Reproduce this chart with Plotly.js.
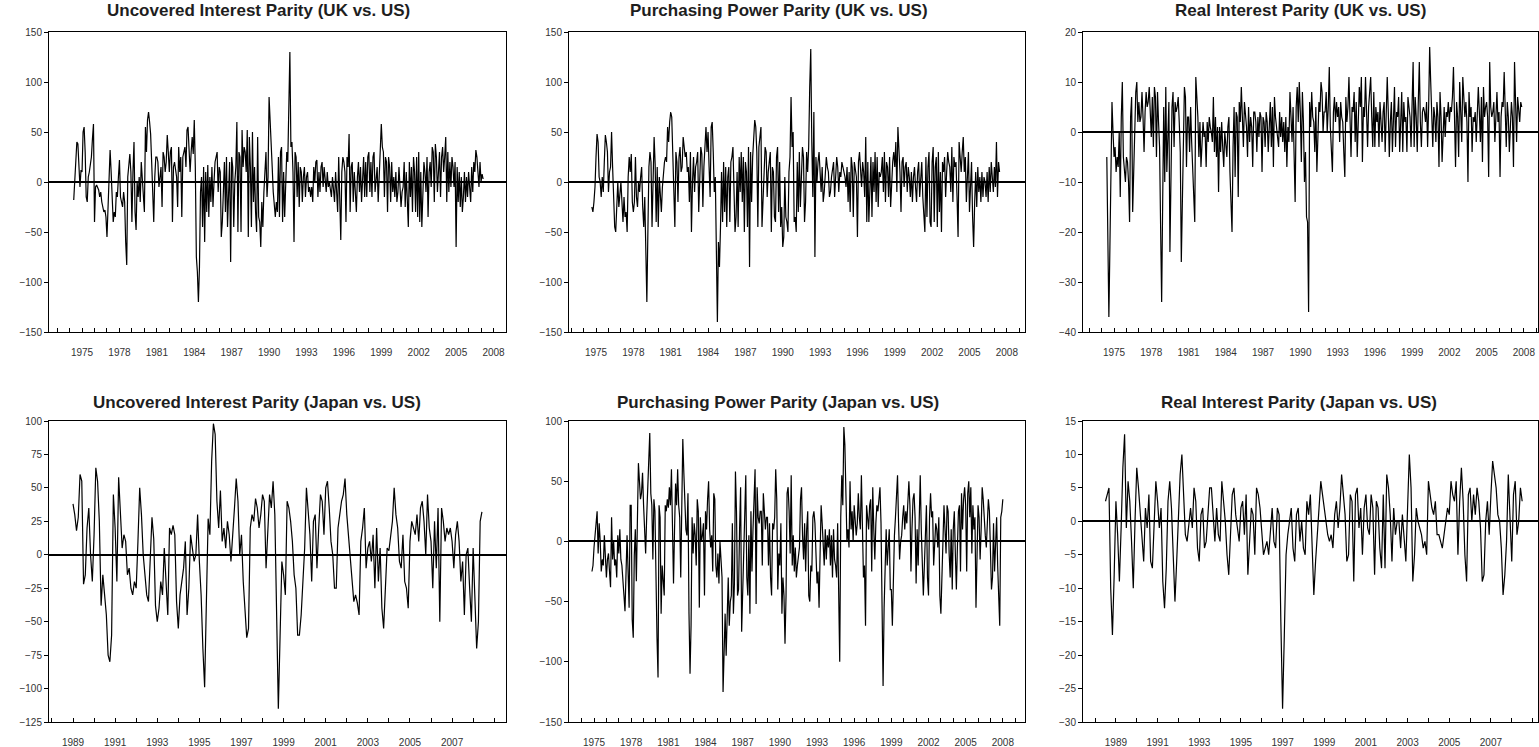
<!DOCTYPE html>
<html>
<head>
<meta charset="utf-8">
<script src="https://cdn.plot.ly/plotly-3.0.1.min.js"></script>
<style>
html,body{margin:0;padding:0;background:#fff;}
#chart{width:1539px;height:747px;}
</style>
</head>
<body>
<div id="chart"></div>
<script>
// ---------------- DATA ----------------
const titles = [
  "Uncovered Interest Parity (UK vs. US)",
  "Purchasing Power Parity (UK vs. US)",
  "Real Interest Parity (UK vs. US)",
  "Uncovered Interest Parity (Japan vs. US)",
  "Purchasing Power Parity (Japan vs. US)",
  "Real Interest Parity (Japan vs. US)"
];

const ukYearLabels = [1975, 1978, 1981, 1984, 1987, 1990, 1993, 1996, 1999, 2002, 2005, 2008];
const jpYearLabels = [1989, 1991, 1993, 1995, 1997, 1999, 2001, 2003, 2005, 2007];

const ticks150 = [-150, -100, -50, 0, 50, 100, 150];
const ticksRipUK = [-40, -30, -20, -10, 0, 10, 20];
const ticksUipJP = [-125, -100, -75, -50, -25, 0, 25, 50, 75, 100];
const ticksPppJP = [-150, -100, -50, 0, 50, 100];
const ticksRipJP = [-30, -25, -20, -15, -10, -5, 0, 5, 10, 15];

// monthly series, first observation month given as [year, month]
const uipUKStart = [1974, 5];
const uipUK = [
  -18, 2, 20, 40, 38, 5, -5, 12,
  10, 50, 55, 30, -15, -20, 5, 10, 20, 25, 43, 58,
  -40, -5, -3, -5, -8, -15, -10, -20, -25, -30, -28, -35,
  -55, -30, 5, 32, 10, -20, -40, -30, -35, -10, -15, 5,
  22, -15, -20, -25, -10, -20, -60, -83, 5, 15, 28, 10,
  -40, 10, 40, -30, -48, 0, -15, 5, -20, 20, 0, -10,
  -30, 55, 30, 62, 70, 60, 48, 20, -25, -40, 5, 25,
  25, 20, -5, 10, 15, -25, 30, 25, 10, 20, 47, 30,
  10, 30, 35, -40, 15, 20, 10, 5, -25, 35, 10, 25,
  -35, 25, 30, 35, 15, 52, 55, 20, 10, 30, 45, 28,
  62, 15, -75, -90, -120, -85, -10, 5, -45, 15, -60, 10,
  -30, 17, -35, 5, -20, 15, -25, 0, 20, 25, 30, -10,
  15, 10, -55, -40, 0, 20, -30, 25, -45, -10, 20, -80,
  25, 15, -45, 0, 15, 60, -50, 30, 25, -50, 52, 15,
  35, 30, 10, 52, -55, 45, 15, -45, 50, -20, 15, -30,
  -50, 45, -35, -40, -65, -20, -45, -10, 20, 30, -15, 5,
  85, 65, 35, 15, -10, -25, -35, -20, -30, 25, -35, 30,
  35, -40, 10, -35, 15, 30, 20, 95, 130, 35, 40, 10,
  -60, 30, 25, -15, 20, -25, 15, 10, -20, 5, 15, -15,
  5, 10, -10, -5, -15, -5, -20, 15, 0, 20, 22, -15,
  10, -10, 15, 20, -5, 15, 5, -10, 10, -5, 0, -10,
  -15, 5, -5, -20, 10, -10, -30, 25, -30, -58, 10, 25,
  20, 10, -40, 25, 15, 48, -30, 15, 20, -20, 10, -10,
  -30, 5, 20, -10, 15, -20, 5, 25, -15, 20, -15, 25,
  30, -10, 20, -15, 25, 30, -10, 5, 15, -20, 10, 20,
  58, 35, 30, -15, 25, 20, -30, 25, 15, -20, 20, -10,
  5, -15, 10, -20, -10, 15, 0, -25, -10, -5, 20, -25,
  10, -15, -45, 20, -15, 15, -30, 25, 10, -30, 25, -35,
  30, -40, 10, -45, -20, 20, 10, -10, 25, -35, 10, 20,
  -5, 35, 30, -20, 38, 25, -10, 20, 30, -15, 25, 35,
  10, 25, 45, -20, 30, -10, 20, -5, 25, 15, -5, 20,
  -65, 15, -20, 10, -25, 5, -30, -15, 10, -20, 5, -15,
  10, -5, -20, 15, -10, 20, 10, 32, 25, 10, -5, 20,
  0, 8, 3
];

const pppUKStart = [1974, 9];
const pppUK = [
  -25, -30, -20, -5,
  25, 48, 40, 5, 0, -15, 5, -10, 20, 47, 40, 30,
  -10, 10, 15, 50, 15, -30, -45, -50, -20, 0, -25, -10,
  0, -20, -40, -15, -35, -30, -50, 5, 25, 10, 28, -20,
  -30, -20, 25, -15, -25, 0, -10, 5, 15, -25, -45, -15,
  -80, -120, -50, 15, 30, 20, -45, 10, 45, 18, -40, 15,
  -45, 5, -10, -30, -5, 10, 20, 25, 20, 55, 40, 60,
  70, 65, 20, -30, -45, 30, 20, -20, 25, 35, 10, 15,
  45, 35, 25, 30, 10, 15, -20, 30, -50, 0, 25, -10,
  15, 20, 30, -30, 20, 35, 28, -25, 15, 30, 55, 30,
  50, 15, -15, 55, 60, 30, -10, 5, -90, -140, -60, -85,
  -45, 10, -40, 20, -30, 15, -45, 5, 15, -40, 20, 25,
  35, -25, -50, -35, 10, -45, 25, -10, 30, -20, 25, -50,
  20, 10, -45, 35, -85, 30, -20, 25, 45, 62, 55, 30,
  -45, 35, 45, 55, -45, -20, 15, 35, 30, -15, 10, 25,
  30, -50, 15, 10, -35, -40, 25, 35, -30, 20, -45, -25,
  -65, -55, 5, -35, -40, -50, 10, 25, 85, 35, 50, -40,
  -35, -50, 20, -30, 30, -25, 15, 35, 25, -40, -20, 30,
  10, 35, 95, 133, 40, -15, 70, -75, 25, 0, 20, 30,
  10, -10, 15, -20, -10, 5, 25, 15, 10, -15, -10, 5,
  15, 20, -15, 10, 25, 15, -10, 10, 5, 20, 15, 10,
  5, -5, 15, -20, 10, -30, 25, 15, -35, 20, 10, 5,
  -55, 20, 30, 10, -5, 20, 10, -15, 45, -40, 20, -40,
  10, 25, -35, 20, -10, 30, -20, 25, -25, 10, 5, 10,
  25, -10, 30, -20, 20, 15, -15, 25, -25, 10, 20, 30,
  15, 40, -10, 55, 35, 10, -30, 20, 25, -5, 15, 20,
  -10, 15, 5, -15, 10, -20, 5, 15, -5, -20, 10, 20,
  -15, 10, 20, -15, -30, -50, 25, -35, 15, 30, -40, -45,
  20, 35, -40, 15, 25, -45, 30, -30, 10, -50, 20, 10,
  25, -15, 10, 30, 20, 15, -10, 35, -20, 25, 15, 20,
  -15, -55, 40, 25, 10, 30, 45, 10, 25, -20, 15, 30,
  -30, 5, 20, -35, -65, -20, 10, -25, 15, -10, 5, -20,
  10, -15, 5, 0, -15, 10, -20, 15, -10, 20, 5, -10,
  15, -5, 40, -15, 20, 10
];

const ripUKStart = [1974, 6];
const ripUK = [
  -5, -25, -37, -23, -2, 6, 0,
  -5, -3, -8, -5, -7, 0, -13, 3, 10, -5, -7, -10,
  -5, -6, -10, -18, 3, 7, -16, -7, 5, 8, 10, 2,
  6, 2, 3, 8, 3, -4, 4, 8, 5, 6, 9, 2,
  -1, 7, -3, 9, 7, -5, 8, 2, -3, -19, -34, -14,
  5, -10, 9, -8, 2, 6, -24, -10, 5, 8, -3, 6,
  4, 5, 7, 2, -4, -26, -12, 5, 9, 7, -7, 3,
  3, -4, 5, -2, -8, -15, -18, 11, 8, 3, -5, 2,
  -7, -2, 2, -1, 0, -7, 2, -2, 3, 1, 0, -2,
  7, -4, 3, -5, 1, -12, 1, -4, 2, -3, -7, 0,
  -2, -5, 1, 3, -8, -14, -20, -3, 5, -9, 4, 3,
  -13, 6, 2, 9, 3, -3, 6, 3, 1, -5, 5, -2,
  3, 1, -7, 4, 4, 2, -4, 3, -1, 4, 3, -8,
  3, 2, -3, 4, 2, -4, 2, 6, -3, 5, -7, 7,
  3, 1, -2, -3, 4, -1, 3, -2, 2, -4, 3, -7,
  1, -2, 8, 4, -2, 5, -8, -14, 5, 9, 2, 10,
  4, -6, 8, 2, -10, -4, -17, -18, -36, 6, 1, 8,
  3, 2, -4, 5, -8, 3, 6, 4, 10, 8, 0, 4,
  4, 8, 0, 5, 13, 1, -3, -8, 4, 7, 2, 6,
  3, 5, -2, 6, 3, 2, -4, -9, 7, 2, 5, 11,
  3, -5, 5, 4, 8, -2, 6, -5, 2, 9, 5, 11,
  -6, 5, 3, 11, 4, -3, 5, 8, 11, 3, -3, 8,
  -3, 5, 2, 4, -3, 6, 3, -2, 4, 6, -4, 3,
  11, 4, -5, 2, 6, -4, 3, 9, -3, 4, 3, 7,
  -4, 5, 8, -4, 6, 2, 3, -4, 7, 5, 3, -3,
  4, 14, -3, 7, 3, -4, 6, 14, 2, -3, 4, 5,
  4, 2, 6, -3, 5, 17, 10, 3, -3, 5, 3, -2,
  6, 3, -7, 8, 3, -6, 2, 5, -1, 4, 3, 6,
  2, 5, 4, 7, 13, 5, -7, 6, 3, -5, 10, 4,
  -2, 11, 5, 3, 6, 2, -10, 8, 3, 5, -4, 3,
  2, 4, -2, 6, 9, 4, -2, 7, -6, 9, 3, 5,
  6, 3, -9, 14, 5, 3, 4, 6, -2, 3, 8, 2,
  4, -9, 3, 6, 5, 12, 4, -3, 6, 3, -4, 2,
  6, 3, -7, 14, 3, -2, 7, 5, 2, 6, 5
];

const uipJPStart = [1989, 1];
const uipJP = [
  38, 30, 18, 28, 60, 55, -22, -15, 20, 35, 0, -20,
  15, 65, 55, 25, -38, -15, -30, -45, -75, -80, -60, 45,
  20, -20, 58, 25, 5, 15, 10, -15, -10, -25, -30, -20,
  -25, 10, 50, 30, 0, -15, -30, -35, -5, 28, 12, -38,
  -50, -40, -20, -30, 5, -25, -45, 20, 15, 22, 15, -35,
  -55, -30, -20, -10, 10, -45, -25, 15, 5, -5, 0, 30,
  -5, -30, -70, -99, -35, 27, 15, 70, 98, 90, 40, 20,
  48, 10, 20, 5, 25, 15, -5, 20, 35, 57, 40, 0,
  15, -20, -45, -62, -55, 20, 30, 25, 42, 35, 20, 30,
  45, 40, -10, 20, 45, 35, 55, 30, -50, -115, -60, -5,
  -15, -30, 40, 35, 25, 10, -15, -25, -60, -60, -45, -20,
  5, 50, 35, 15, -20, 25, 30, -10, 20, 45, 40, 15,
  50, 55, 35, 10, 0, -25, -25, 20, 30, 40, 45, 57,
  30, 15, 0, -20, -35, -30, -36, -45, 10, 20, 35, -10,
  5, 10, -5, 15, -25, 20, -20, 5, -40, -55, -20, 5,
  3, 15, 25, 50, 30, 20, -5, -10, 15, -20, -25, -40,
  10, 25, 20, 15, 30, 10, 35, 40, 25, 0, 45, 20,
  10, -25, 25, -10, 35, -50, 35, 25, 10, 20, 15, 20,
  10, -10, 15, 25, 10, -20, -5, -45, 0, 5, -25, -50,
  5, -35, -70, -50, 25, 32
];

const pppJPStart = [1974, 11];
const pppJP = [
  -25, -20,
  -5, 5, 20, 25, -10, 15, 0, -25, -15, -20, 5, -10,
  -30, -15, -10, -25, -38, 20, -15, 0, -20, -15, -30, 5,
  -10, 10, -15, -20, -30, -45, -58, -10, 5, -25, -55, 30,
  30, -65, -80, -12, 10, -33, 15, 65, 50, 35, 40, 57,
  30, 10, -10, 20, 40, 63, 90, 40, 30, -15, 35, 25,
  -55, -80, -113, 30, 20, -60, -20, -30, -45, 30, 25, 35,
  28, 45, 30, 60, 8, -35, 10, 48, 30, 60, 30, 20,
  -30, 50, 85, 57, 35, 10, 5, 40, -60, -110, -70, 20,
  -10, 15, 5, -20, 35, 25, -55, 20, 0, 5, 15, -45,
  25, 10, 35, 50, 10, -5, 5, -25, 40, 35, -20, -30,
  -10, -35, 0, -20, -30, -125, -85, -60, -95, -45, -30, -70,
  -50, -45, 15, -60, -35, 58, 25, -45, -40, 10, 45, -75,
  -40, 10, 45, 55, -30, -45, 5, -60, 25, -25, 10, 35,
  60, -52, 45, 20, 15, 25, 25, -20, 40, 25, 10, 20,
  20, -20, 15, -30, -45, 15, 10, 20, 60, 35, -40, -10,
  -20, 15, -60, -30, -45, -85, -45, 40, 45, 25, -10, 55,
  -20, 5, -25, -5, -30, -20, -10, -5, 35, 45, 5, -15,
  15, -25, 10, 25, -45, -50, -20, -25, 20, 25, 15, -15,
  -35, -25, -55, -10, 30, 15, -10, -20, 10, -15, 5, -5,
  10, -20, 5, -30, 10, -15, -20, -30, 15, -70, -100, 20,
  55, 30, 95, 80, 20, 0, 10, -5, 50, 10, 25, 0,
  30, 20, 5, 15, 40, 20, 10, 55, 20, -30, -20, -70,
  30, 15, 10, 30, 35, -25, 45, 10, -15, 15, 30, 25,
  35, 45, 15, -60, -120, -55, -20, 10, -20, 0, 10, -40,
  -40, -70, -30, 5, 20, 40, 55, 15, -15, 0, 5, 20,
  30, 10, 25, 15, 30, 50, 30, -25, 10, 35, 40, 20,
  -35, 10, -20, 25, 55, 10, -30, -45, -20, 10, 30, -30,
  -45, 20, 40, 20, 25, -20, 0, 15, 10, -5, 20, -45,
  -60, -25, 15, 30, 10, -10, 30, 25, -10, -30, 10, -40,
  10, 25, -10, -40, -5, 25, 30, -25, 40, 10, 35, 45,
  30, -25, 40, 50, 20, 45, -10, 30, 10, 20, -55, -10,
  30, 20, -15, 10, 45, 35, 15, 5, -5, 20, 35, 25,
  -10, -40, -30, 15, -25, 10, 20, -20, -40, -70, 20, 25,
  35
];

const ripJPStart = [1988, 7];
const ripJP = [
  3, 4, 5, -10, -17, -8,
  3, -2, -9, -1, 8, 13, -1, 6, 3, -3, -10, 0,
  8, 5, 1, -2, -6, 2, -1, 4, -6, -7, 1, 6,
  3, -1, 2, -9, -13, -7, 3, 6, 2, -6, -12, -6,
  0, 7, 10, 4, -2, -3, 0, 2, -1, 5, 3, -4,
  -6, 1, 2, -4, -3, 1, 5, 5, 0, -3, 2, -2,
  -3, 6, 3, 0, -5, -8, -2, 4, 5, 1, -1, -3,
  2, 3, -2, 4, -8, -3, 2, 1, -5, 5, 4, 2,
  -2, -5, -4, -3, -5, -2, 2, -3, -4, 2, 1, -15,
  -28, -17, -5, -2, 0, 2, -4, -6, 1, 2, -3, 0,
  -4, -5, 3, 1, 4, -5, -11, -6, -2, 2, 6, 4,
  2, 0, -2, -3, -2, -4, 1, 3, -1, 2, 7, 4,
  1, -6, -5, 4, 3, -9, 4, 5, -1, 2, -5, 2,
  4, -1, -2, 4, 2, -8, 3, 2, -4, -7, 4, -7,
  7, 5, 1, -6, 2, -2, 0, 0, -4, 1, -2, -6,
  2, 10, 5, -9, -5, 2, 0, -1, -2, -4, -3, -5,
  6, 4, 2, 1, 3, -2, -2, -3, -4, -2, 0, 2,
  1, 6, 4, 3, 6, -5, 3, 8, 3, -5, -9, 4,
  5, 0, 4, 1, 5, 3, -1, -9, -8, 0, 3, -2,
  4, 9, 7, 5, 1, 0, -4, -11, -8, -3, 7, -1,
  -6, 4, 6, -2, 0, 5, 3
];

// ---------------- LAYOUT / DRAWING ----------------
const W = 1539, H = 747;
const FONT = 'Arial, "Liberation Sans", sans-serif';

function monthAxis(start, n) {
  const out = [];
  for (let i = 0; i < n; i++) out.push(start[0] + (start[1] - 1 + i) / 12);
  return out;
}

const panels = [
  {title: titles[0], y: uipUK, start: uipUKStart, xr: [1972.35, 2009.0], yr: [-150, 150], yt: ticks150, labels: ukYearLabels, px: [49, 506], py: [32, 332], tx: 258, ty: 11},
  {title: titles[1], y: pppUK, start: pppUKStart, xr: [1972.83, 2009.46], yr: [-150, 150], yt: ticks150, labels: ukYearLabels, px: [569, 1025], py: [32, 332], tx: 779, ty: 11},
  {title: titles[2], y: ripUK, start: ripUKStart, xr: [1972.5, 2009.14], yr: [-40, 20], yt: ticksRipUK, labels: ukYearLabels, px: [1083, 1538], py: [32, 332], tx: 1300, ty: 11},
  {title: titles[3], y: uipJP, start: uipJPStart, xr: [1987.86, 2009.56], yr: [-125, 100], yt: ticksUipJP, labels: jpYearLabels, px: [49, 506], py: [421, 722], tx: 257, ty: 402},
  {title: titles[4], y: pppJP, start: pppJPStart, xr: [1972.98, 2009.79], yr: [-150, 100], yt: ticksPppJP, labels: ukYearLabels, px: [569, 1025], py: [421, 722], tx: 778, ty: 402},
  {title: titles[5], y: ripJP, start: ripJPStart, xr: [1987.42, 2009.26], yr: [-30, 15], yt: ticksRipJP, labels: jpYearLabels, px: [1083, 1538], py: [421, 722], tx: 1299, ty: 402}
];

const traces = [];
const layout = {
  width: W, height: H,
  margin: {l: 0, r: 0, t: 0, b: 0},
  paper_bgcolor: '#fff', plot_bgcolor: '#fff',
  showlegend: false,
  font: {family: FONT, color: '#333'},
  annotations: []
};

panels.forEach((p, k) => {
  const i = k + 1;
  const xs = monthAxis(p.start, p.y.length);
  traces.push({
    type: 'scatter', mode: 'lines',
    x: xs, y: p.y,
    xaxis: 'x' + i, yaxis: 'y' + i,
    line: {color: '#000', width: 1.2},
    hoverinfo: 'skip'
  });
  const tv = [], tt = [];
  for (let yr = Math.ceil(p.xr[0]); yr < p.xr[1]; yr++) {
    tv.push(yr);
    tt.push(p.labels.includes(yr) ? String(yr) : '');
  }
  layout['xaxis' + i] = {
    domain: [p.px[0] / W, p.px[1] / W],
    anchor: 'y' + i,
    range: p.xr,
    showline: true, linecolor: '#000', linewidth: 1, mirror: true,
    ticks: 'inside', ticklen: 4, tickwidth: 1, tickcolor: '#000',
    tickmode: 'array', tickvals: tv, ticktext: tt,
    tickfont: {family: FONT, size: 10, color: '#333'},
    ticklabelstandoff: 11,
    showgrid: false, zeroline: false, fixedrange: true
  };
  layout['yaxis' + i] = {
    domain: [1 - p.py[1] / H, 1 - p.py[0] / H],
    anchor: 'x' + i,
    range: p.yr,
    showline: true, linecolor: '#000', linewidth: 1, mirror: true,
    ticks: 'outside', ticklen: 4, tickwidth: 1, tickcolor: '#000',
    tickmode: 'array', tickvals: p.yt,
    tickfont: {family: FONT, size: 10, color: '#333'},
    showgrid: false,
    zeroline: true, zerolinecolor: '#000', zerolinewidth: 2,
    fixedrange: true
  };
  layout.annotations.push({
    text: '<b>' + p.title + '</b>',
    xref: 'paper', yref: 'paper',
    x: p.tx / W, y: 1 - p.ty / H,
    xanchor: 'center', yanchor: 'middle',
    showarrow: false,
    font: {family: FONT, size: 17, color: '#1e1e1e'}
  });
});

Plotly.newPlot('chart', traces, layout, {staticPlot: true, displayModeBar: false});
</script>
</body>
</html>
